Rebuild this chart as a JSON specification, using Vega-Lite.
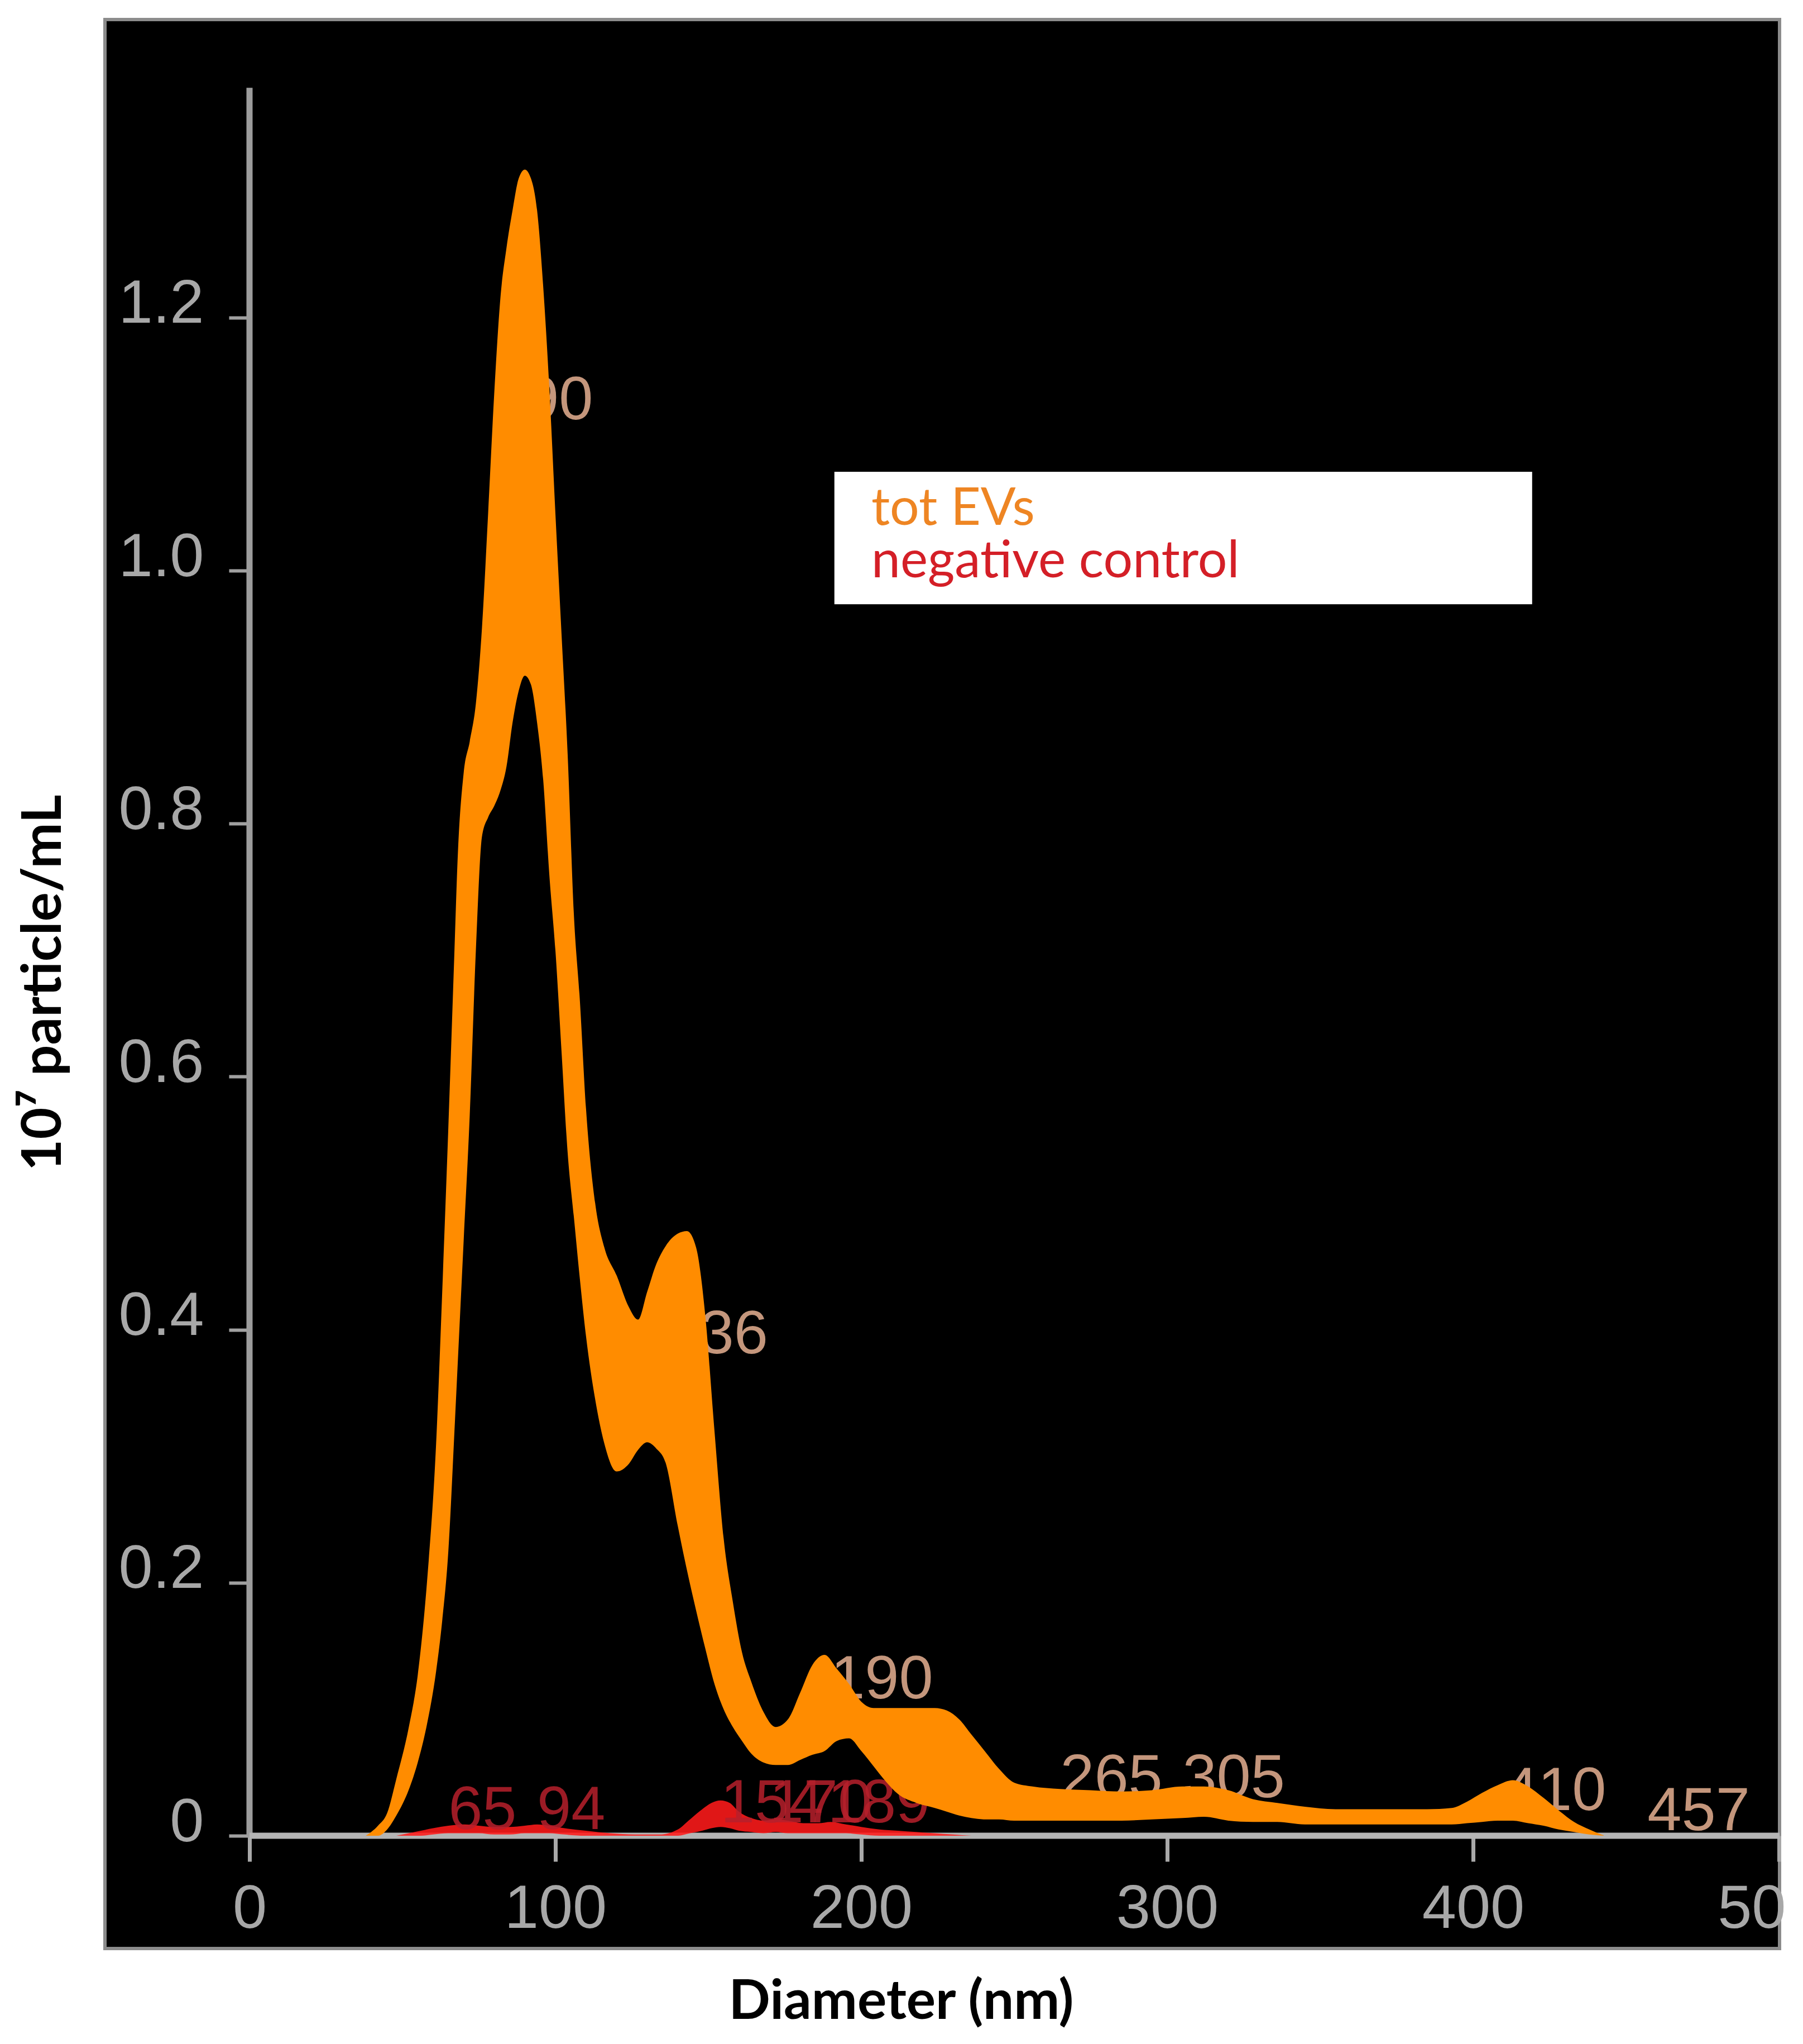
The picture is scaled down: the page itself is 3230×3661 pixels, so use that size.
{
  "$schema": "https://vega.github.io/schema/vega-lite/v6.json",
  "autosize": {"type": "none"},
  "width": 3000,
  "height": 3455,
  "padding": {"left": 188, "top": 35, "right": 42, "bottom": 171},
  "background": "white",
  "config": {
    "view": {"fill": "black", "stroke": "#8c8c8c", "strokeWidth": 6}
  },
  "datasets": {
    "nta": [
      {"series": "tot EVs", "diameter": 38, "upper": 0, "lower": 0},
      {"series": "tot EVs", "diameter": 42, "upper": 0.008, "lower": 0},
      {"series": "tot EVs", "diameter": 45, "upper": 0.018, "lower": 0.005},
      {"series": "tot EVs", "diameter": 48, "upper": 0.045, "lower": 0.016},
      {"series": "tot EVs", "diameter": 52, "upper": 0.085, "lower": 0.036},
      {"series": "tot EVs", "diameter": 55, "upper": 0.127, "lower": 0.058},
      {"series": "tot EVs", "diameter": 58, "upper": 0.2, "lower": 0.088},
      {"series": "tot EVs", "diameter": 61, "upper": 0.31, "lower": 0.13},
      {"series": "tot EVs", "diameter": 63, "upper": 0.43, "lower": 0.17},
      {"series": "tot EVs", "diameter": 65, "upper": 0.56, "lower": 0.225},
      {"series": "tot EVs", "diameter": 67, "upper": 0.7, "lower": 0.32},
      {"series": "tot EVs", "diameter": 68, "upper": 0.77, "lower": 0.37},
      {"series": "tot EVs", "diameter": 70, "upper": 0.84, "lower": 0.47},
      {"series": "tot EVs", "diameter": 72, "upper": 0.865, "lower": 0.57},
      {"series": "tot EVs", "diameter": 74, "upper": 0.895, "lower": 0.7},
      {"series": "tot EVs", "diameter": 76, "upper": 0.955, "lower": 0.79},
      {"series": "tot EVs", "diameter": 78, "upper": 1.045, "lower": 0.805},
      {"series": "tot EVs", "diameter": 80, "upper": 1.14, "lower": 0.814},
      {"series": "tot EVs", "diameter": 82, "upper": 1.215, "lower": 0.826},
      {"series": "tot EVs", "diameter": 84, "upper": 1.255, "lower": 0.845},
      {"series": "tot EVs", "diameter": 86, "upper": 1.285, "lower": 0.88},
      {"series": "tot EVs", "diameter": 88, "upper": 1.31, "lower": 0.905},
      {"series": "tot EVs", "diameter": 90, "upper": 1.317, "lower": 0.917},
      {"series": "tot EVs", "diameter": 92, "upper": 1.31, "lower": 0.91},
      {"series": "tot EVs", "diameter": 94, "upper": 1.285, "lower": 0.88},
      {"series": "tot EVs", "diameter": 96, "upper": 1.225, "lower": 0.835},
      {"series": "tot EVs", "diameter": 98, "upper": 1.145, "lower": 0.76},
      {"series": "tot EVs", "diameter": 100, "upper": 1.045, "lower": 0.7},
      {"series": "tot EVs", "diameter": 102, "upper": 0.95, "lower": 0.62},
      {"series": "tot EVs", "diameter": 104, "upper": 0.855, "lower": 0.54},
      {"series": "tot EVs", "diameter": 106, "upper": 0.73, "lower": 0.49},
      {"series": "tot EVs", "diameter": 108, "upper": 0.66, "lower": 0.44},
      {"series": "tot EVs", "diameter": 110, "upper": 0.575, "lower": 0.395},
      {"series": "tot EVs", "diameter": 113, "upper": 0.5, "lower": 0.345},
      {"series": "tot EVs", "diameter": 116, "upper": 0.465, "lower": 0.31},
      {"series": "tot EVs", "diameter": 120, "upper": 0.443, "lower": 0.288},
      {"series": "tot EVs", "diameter": 124, "upper": 0.418, "lower": 0.294},
      {"series": "tot EVs", "diameter": 127, "upper": 0.408, "lower": 0.305},
      {"series": "tot EVs", "diameter": 130, "upper": 0.43, "lower": 0.311},
      {"series": "tot EVs", "diameter": 133, "upper": 0.452, "lower": 0.306},
      {"series": "tot EVs", "diameter": 136, "upper": 0.466, "lower": 0.295},
      {"series": "tot EVs", "diameter": 140, "upper": 0.476, "lower": 0.245},
      {"series": "tot EVs", "diameter": 143, "upper": 0.478, "lower": 0.21},
      {"series": "tot EVs", "diameter": 146, "upper": 0.465, "lower": 0.178},
      {"series": "tot EVs", "diameter": 149, "upper": 0.411, "lower": 0.148},
      {"series": "tot EVs", "diameter": 152, "upper": 0.32, "lower": 0.12},
      {"series": "tot EVs", "diameter": 155, "upper": 0.235, "lower": 0.1},
      {"series": "tot EVs", "diameter": 158, "upper": 0.185, "lower": 0.086},
      {"series": "tot EVs", "diameter": 161, "upper": 0.145, "lower": 0.075},
      {"series": "tot EVs", "diameter": 164, "upper": 0.122, "lower": 0.065},
      {"series": "tot EVs", "diameter": 168, "upper": 0.098, "lower": 0.058},
      {"series": "tot EVs", "diameter": 172, "upper": 0.086, "lower": 0.056},
      {"series": "tot EVs", "diameter": 176, "upper": 0.092, "lower": 0.056},
      {"series": "tot EVs", "diameter": 180, "upper": 0.113, "lower": 0.06},
      {"series": "tot EVs", "diameter": 184, "upper": 0.135, "lower": 0.064},
      {"series": "tot EVs", "diameter": 188, "upper": 0.143, "lower": 0.067},
      {"series": "tot EVs", "diameter": 192, "upper": 0.132, "lower": 0.075},
      {"series": "tot EVs", "diameter": 196, "upper": 0.12, "lower": 0.077},
      {"series": "tot EVs", "diameter": 200, "upper": 0.106, "lower": 0.067},
      {"series": "tot EVs", "diameter": 204, "upper": 0.101, "lower": 0.055},
      {"series": "tot EVs", "diameter": 208, "upper": 0.101, "lower": 0.043},
      {"series": "tot EVs", "diameter": 212, "upper": 0.101, "lower": 0.033},
      {"series": "tot EVs", "diameter": 218, "upper": 0.101, "lower": 0.026},
      {"series": "tot EVs", "diameter": 224, "upper": 0.101, "lower": 0.022},
      {"series": "tot EVs", "diameter": 228, "upper": 0.099, "lower": 0.019},
      {"series": "tot EVs", "diameter": 232, "upper": 0.092, "lower": 0.016},
      {"series": "tot EVs", "diameter": 236, "upper": 0.08, "lower": 0.014},
      {"series": "tot EVs", "diameter": 240, "upper": 0.068, "lower": 0.013},
      {"series": "tot EVs", "diameter": 245, "upper": 0.053, "lower": 0.013},
      {"series": "tot EVs", "diameter": 250, "upper": 0.042, "lower": 0.012},
      {"series": "tot EVs", "diameter": 256, "upper": 0.039, "lower": 0.012},
      {"series": "tot EVs", "diameter": 265, "upper": 0.037, "lower": 0.012},
      {"series": "tot EVs", "diameter": 275, "upper": 0.036, "lower": 0.012},
      {"series": "tot EVs", "diameter": 285, "upper": 0.035, "lower": 0.012},
      {"series": "tot EVs", "diameter": 295, "upper": 0.036, "lower": 0.013},
      {"series": "tot EVs", "diameter": 305, "upper": 0.039, "lower": 0.014},
      {"series": "tot EVs", "diameter": 312, "upper": 0.039, "lower": 0.015},
      {"series": "tot EVs", "diameter": 320, "upper": 0.036, "lower": 0.012},
      {"series": "tot EVs", "diameter": 328, "upper": 0.029, "lower": 0.011},
      {"series": "tot EVs", "diameter": 336, "upper": 0.026, "lower": 0.011},
      {"series": "tot EVs", "diameter": 345, "upper": 0.023, "lower": 0.009},
      {"series": "tot EVs", "diameter": 355, "upper": 0.021, "lower": 0.009},
      {"series": "tot EVs", "diameter": 370, "upper": 0.021, "lower": 0.009},
      {"series": "tot EVs", "diameter": 385, "upper": 0.021, "lower": 0.009},
      {"series": "tot EVs", "diameter": 393, "upper": 0.022, "lower": 0.009},
      {"series": "tot EVs", "diameter": 398, "upper": 0.027, "lower": 0.01},
      {"series": "tot EVs", "diameter": 403, "upper": 0.034, "lower": 0.011},
      {"series": "tot EVs", "diameter": 408, "upper": 0.04, "lower": 0.012},
      {"series": "tot EVs", "diameter": 413, "upper": 0.044, "lower": 0.012},
      {"series": "tot EVs", "diameter": 418, "upper": 0.039, "lower": 0.01},
      {"series": "tot EVs", "diameter": 423, "upper": 0.03, "lower": 0.008},
      {"series": "tot EVs", "diameter": 428, "upper": 0.02, "lower": 0.005},
      {"series": "tot EVs", "diameter": 433, "upper": 0.011, "lower": 0.003},
      {"series": "tot EVs", "diameter": 438, "upper": 0.005, "lower": 0.001},
      {"series": "tot EVs", "diameter": 443, "upper": 0, "lower": 0},
      {"series": "negative control", "diameter": 48, "upper": 0, "lower": 0},
      {"series": "negative control", "diameter": 52, "upper": 0.002, "lower": 0},
      {"series": "negative control", "diameter": 56, "upper": 0.004, "lower": 0},
      {"series": "negative control", "diameter": 60, "upper": 0.006, "lower": 0.001},
      {"series": "negative control", "diameter": 65, "upper": 0.008, "lower": 0.002},
      {"series": "negative control", "diameter": 70, "upper": 0.009, "lower": 0.002},
      {"series": "negative control", "diameter": 75, "upper": 0.008, "lower": 0.002},
      {"series": "negative control", "diameter": 80, "upper": 0.007, "lower": 0.001},
      {"series": "negative control", "diameter": 85, "upper": 0.007, "lower": 0.001},
      {"series": "negative control", "diameter": 90, "upper": 0.008, "lower": 0.002},
      {"series": "negative control", "diameter": 94, "upper": 0.009, "lower": 0.002},
      {"series": "negative control", "diameter": 98, "upper": 0.008, "lower": 0.002},
      {"series": "negative control", "diameter": 103, "upper": 0.006, "lower": 0.001},
      {"series": "negative control", "diameter": 110, "upper": 0.004, "lower": 0},
      {"series": "negative control", "diameter": 118, "upper": 0.002, "lower": 0},
      {"series": "negative control", "diameter": 126, "upper": 0.001, "lower": 0},
      {"series": "negative control", "diameter": 134, "upper": 0.001, "lower": 0},
      {"series": "negative control", "diameter": 140, "upper": 0.005, "lower": 0},
      {"series": "negative control", "diameter": 144, "upper": 0.013, "lower": 0.002},
      {"series": "negative control", "diameter": 148, "upper": 0.021, "lower": 0.004},
      {"series": "negative control", "diameter": 151, "upper": 0.026, "lower": 0.006},
      {"series": "negative control", "diameter": 154, "upper": 0.028, "lower": 0.007},
      {"series": "negative control", "diameter": 157, "upper": 0.026, "lower": 0.006},
      {"series": "negative control", "diameter": 160, "upper": 0.019, "lower": 0.004},
      {"series": "negative control", "diameter": 164, "upper": 0.014, "lower": 0.003},
      {"series": "negative control", "diameter": 168, "upper": 0.012, "lower": 0.002},
      {"series": "negative control", "diameter": 172, "upper": 0.013, "lower": 0.003},
      {"series": "negative control", "diameter": 176, "upper": 0.012, "lower": 0.002},
      {"series": "negative control", "diameter": 181, "upper": 0.01, "lower": 0.002},
      {"series": "negative control", "diameter": 186, "upper": 0.01, "lower": 0.002},
      {"series": "negative control", "diameter": 190, "upper": 0.011, "lower": 0.002},
      {"series": "negative control", "diameter": 195, "upper": 0.009, "lower": 0.002},
      {"series": "negative control", "diameter": 200, "upper": 0.007, "lower": 0.001},
      {"series": "negative control", "diameter": 206, "upper": 0.005, "lower": 0},
      {"series": "negative control", "diameter": 212, "upper": 0.004, "lower": 0},
      {"series": "negative control", "diameter": 218, "upper": 0.003, "lower": 0},
      {"series": "negative control", "diameter": 224, "upper": 0.002, "lower": 0},
      {"series": "negative control", "diameter": 230, "upper": 0.001, "lower": 0},
      {"series": "negative control", "diameter": 236, "upper": 0, "lower": 0}
    ],
    "peaks": [
      {"series": "tot EVs", "diameter": 90, "level": 1.134},
      {"series": "tot EVs", "diameter": 136, "level": 0.396},
      {"series": "tot EVs", "diameter": 190, "level": 0.123},
      {"series": "tot EVs", "diameter": 265, "level": 0.045},
      {"series": "tot EVs", "diameter": 305, "level": 0.045},
      {"series": "tot EVs", "diameter": 410, "level": 0.035},
      {"series": "tot EVs", "diameter": 457, "level": 0.019},
      {"series": "negative control", "diameter": 65, "level": 0.02},
      {"series": "negative control", "diameter": 94, "level": 0.02},
      {"series": "negative control", "diameter": 154, "level": 0.025},
      {"series": "negative control", "diameter": 170, "level": 0.025},
      {"series": "negative control", "diameter": 189, "level": 0.025}
    ]
  },
  "layer": [
    {
      "data": {"values": [{}]},
      "mark": {"type": "rect", "fill": "white"},
      "encoding": {
        "x": {"datum": 191.2, "type": "quantitative", "scale": {"domain": [-47.26, 500.18], "nice": false, "zero": false}},
        "x2": {"datum": 419.3},
        "y": {"datum": 1.0781, "type": "quantitative", "scale": {"domain": [-0.0891, 1.4356], "nice": false, "zero": false}},
        "y2": {"datum": 0.9735}
      }
    },
    {
      "data": {"values": [{}]},
      "mark": {"type": "rule", "color": "#9c9c9c", "strokeWidth": 11},
      "encoding": {
        "x": {"datum": 0, "type": "quantitative", "scale": {"domain": [-47.26, 500.18], "nice": false, "zero": false}},
        "y": {"datum": 0, "type": "quantitative", "scale": {"domain": [-0.0891, 1.4356], "nice": false, "zero": false}},
        "y2": {"datum": 1.3817}
      }
    },
    {
      "data": {"values": [{}]},
      "mark": {"type": "rule", "color": "#b4b4b4", "strokeWidth": 11},
      "encoding": {
        "x": {"datum": 0, "type": "quantitative", "scale": {"domain": [-47.26, 500.18], "nice": false, "zero": false}},
        "x2": {"datum": 500.18},
        "y": {"datum": 0, "type": "quantitative", "scale": {"domain": [-0.0891, 1.4356], "nice": false, "zero": false}}
      }
    },
    {
      "data": {"name": "peaks"},
      "transform": [{"filter": "datum.series == 'tot EVs'"}],
      "mark": {"type": "text", "align": "left", "baseline": "middle", "font": "Liberation Sans", "fontSize": 110, "color": "#c4967c"},
      "encoding": {
        "x": {"field": "diameter", "type": "quantitative", "scale": {"domain": [-47.26, 500.18], "nice": false, "zero": false}},
        "y": {"field": "level", "type": "quantitative", "scale": {"domain": [-0.0891, 1.4356], "nice": false, "zero": false}},
        "text": {"field": "diameter", "type": "nominal"}
      }
    },
    {
      "data": {"name": "nta"},
      "transform": [{"filter": "datum.series == 'negative control'"}],
      "mark": {"type": "area", "interpolate": "monotone", "opacity": 0.88},
      "encoding": {
        "x": {"field": "diameter", "type": "quantitative", "scale": {"domain": [-47.26, 500.18], "nice": false, "zero": false}},
        "y": {"field": "upper", "type": "quantitative", "scale": {"domain": [-0.0891, 1.4356], "nice": false, "zero": false}},
        "y2": {"field": "lower"},
        "color": {"field": "series", "type": "nominal", "scale": {"domain": ["tot EVs", "negative control"], "range": ["#ff8c00", "#ff1a1a"]}}
      }
    },
    {
      "data": {"name": "peaks"},
      "transform": [{"filter": "datum.series == 'negative control'"}],
      "mark": {"type": "text", "align": "left", "baseline": "middle", "font": "Liberation Sans", "fontSize": 110, "color": "#b8202c", "opacity": 0.85},
      "encoding": {
        "x": {"field": "diameter", "type": "quantitative", "scale": {"domain": [-47.26, 500.18], "nice": false, "zero": false}},
        "y": {"field": "level", "type": "quantitative", "scale": {"domain": [-0.0891, 1.4356], "nice": false, "zero": false}},
        "text": {"field": "diameter", "type": "nominal"}
      }
    },
    {
      "data": {"name": "nta"},
      "transform": [{"filter": "datum.series == 'tot EVs'"}],
      "mark": {"type": "area", "interpolate": "monotone", "opacity": 1},
      "encoding": {
        "x": {
          "field": "diameter",
          "type": "quantitative",
          "scale": {"domain": [-47.26, 500.18], "nice": false, "zero": false},
          "axis": {
            "values": [0, 100, 200, 300, 400, 500],
            "offset": -202,
            "domain": false,
            "grid": false,
            "tickColor": "#a8a8a8",
            "tickSize": 46,
            "tickWidth": 7,
            "labelColor": "#a8a8a8",
            "labelFont": "Liberation Sans",
            "labelFontSize": 110,
            "labelBaseline": "alphabetic",
            "labelPadding": 118,
            "labelLimit": 1000,
            "labelFlush": false,
            "labelOverlap": false,
            "labelExpr": "datum.value == 500 ? '50' : datum.label",
            "labelAlign": {"condition": {"test": "datum.value == 500", "value": "right"}, "value": "center"},
            "labelOffset": {"condition": {"test": "datum.value == 500", "value": 12}, "value": 0},
            "title": "Diameter (nm)",
            "titleFont": "Lato",
            "titleFontWeight": "bold",
            "titleFontSize": 98,
            "titleColor": "black",
            "titleBaseline": "alphabetic",
            "titleX": 1426,
            "titleY": 327
          }
        },
        "y": {
          "field": "upper",
          "type": "quantitative",
          "scale": {"domain": [-0.0891, 1.4356], "nice": false, "zero": false},
          "axis": {
            "values": [0, 0.2, 0.4, 0.6, 0.8, 1, 1.2],
            "offset": -259,
            "domain": false,
            "grid": false,
            "tickColor": "#a0a0a0",
            "tickSize": 37,
            "tickWidth": 6,
            "labelColor": "#a8a8a8",
            "labelFont": "Liberation Sans",
            "labelFontSize": 110,
            "labelBaseline": "alphabetic",
            "labelPadding": 45,
            "labelOffset": 9,
            "labelLimit": 1000,
            "labelOverlap": false,
            "labelExpr": "datum.value == 0 ? '0' : format(datum.value, '.1f')",
            "title": "10⁷ particle/mL",
            "titleFont": "Lato",
            "titleFontWeight": "bold",
            "titleFontSize": 98,
            "titleColor": "black",
            "titleBaseline": "alphabetic",
            "titleAngle": -90,
            "titleX": -339,
            "titleY": 1725
          }
        },
        "y2": {"field": "lower"},
        "color": {
          "field": "series",
          "type": "nominal",
          "scale": {"domain": ["tot EVs", "negative control"], "range": ["#ff8c00", "#ff1a1a"]},
          "legend": {
            "orient": "none",
            "legendX": 1280,
            "legendY": 830,
            "title": null,
            "padding": 0,
            "symbolSize": 0,
            "symbolOpacity": 0,
            "symbolStrokeWidth": 0,
            "labelOffset": 0,
            "labelFont": "Lato",
            "labelFontSize": 93,
            "labelLimit": 2000,
            "rowPadding": -25,
            "labelColor": {"expr": "datum.value == 'tot EVs' ? '#ee8523' : '#d41f27'"}
          }
        }
      }
    }
  ]
}
